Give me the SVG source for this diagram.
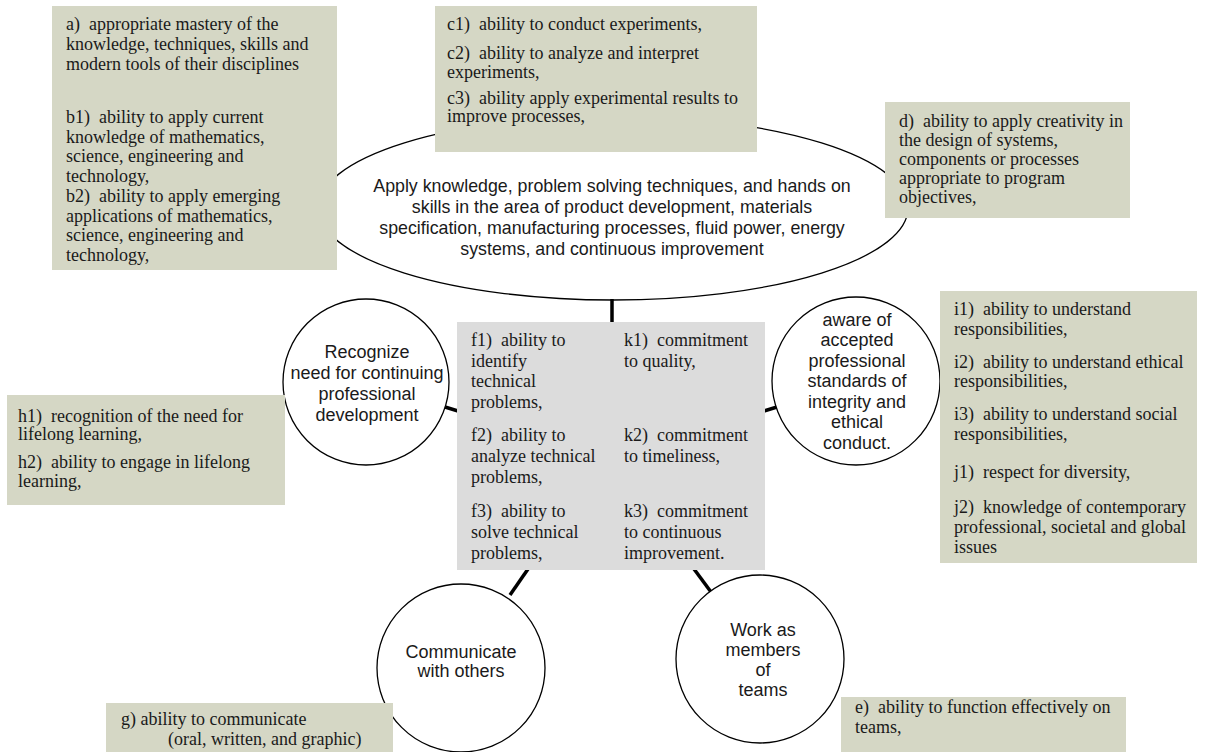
<svg xmlns="http://www.w3.org/2000/svg" width="1225" height="752" viewBox="0 0 1225 752">
<style>
.ob{fill:#d5d7c5}
.gb{fill:#dcdcdc}
.node{fill:#fff;stroke:#000;stroke-width:1.3}
.t{font-family:"Liberation Serif","Times New Roman",serif;font-size:18px;fill:#1a1a1a}
.s{font-family:"Liberation Sans",Arial,sans-serif;font-size:18px;fill:#1a1a1a;text-anchor:middle}
.conn line{stroke:#000;stroke-width:3.5}
</style>
<rect width="1225" height="752" fill="#fff"/>
<g id="goal">
<ellipse class="node" cx="613" cy="208" rx="295" ry="92"/>
<text class="s" style="font-size:17.8px"><tspan x="612" y="192">Apply knowledge, problem solving techniques, and hands on</tspan><tspan x="612" y="213">skills in the area of product development, materials</tspan><tspan x="612" y="234">specification, manufacturing processes, fluid power, energy</tspan><tspan x="612" y="255">systems, and continuous improvement</tspan></text>
</g>
<g id="box-ab">
<rect class="ob" x="52" y="6" width="285" height="264"/>
<text class="t"><tspan x="66" y="30">a)&#160; appropriate mastery of the</tspan><tspan x="66" y="50">knowledge, techniques, skills and</tspan><tspan x="66" y="70">modern tools of their disciplines</tspan><tspan x="66" y="123">b1)&#160; ability to apply current</tspan><tspan x="66" y="143">knowledge of mathematics,</tspan><tspan x="66" y="162">science, engineering and</tspan><tspan x="66" y="182">technology,</tspan><tspan x="66" y="202">b2)&#160; ability to apply emerging</tspan><tspan x="66" y="222">applications of mathematics,</tspan><tspan x="66" y="241">science, engineering and</tspan><tspan x="66" y="261">technology,</tspan></text>
</g>
<g id="box-c">
<rect class="ob" x="435" y="6" width="322" height="146"/>
<text class="t"><tspan x="447" y="30">c1)&#160; ability to conduct experiments,</tspan><tspan x="447" y="59">c2)&#160; ability to analyze and interpret</tspan><tspan x="447" y="78">experiments,</tspan><tspan x="447" y="104">c3)&#160; ability apply experimental results to</tspan><tspan x="447" y="122">improve processes,</tspan></text>
</g>
<g id="box-d">
<rect class="ob" x="885" y="102" width="245" height="116"/>
<text class="t"><tspan x="899" y="127">d)&#160; ability to apply creativity in</tspan><tspan x="899" y="146">the design of systems,</tspan><tspan x="899" y="165">components or processes</tspan><tspan x="899" y="184">appropriate to program</tspan><tspan x="899" y="203">objectives,</tspan></text>
</g>
<g class="conn" id="connectors">
<line x1="612" y1="299" x2="612" y2="323"/>
<line x1="445" y1="407" x2="458" y2="411"/>
<line x1="764" y1="411" x2="777" y2="407"/>
<line x1="528" y1="569" x2="510" y2="595"/>
<line x1="694" y1="569" x2="711" y2="592"/>
</g>
<g id="recognize">
<circle class="node" cx="366" cy="382" r="83"/>
<text class="s"><tspan x="367" y="358">Recognize</tspan><tspan x="367" y="379">need for continuing</tspan><tspan x="367" y="400">professional</tspan><tspan x="367" y="421">development</tspan></text>
</g>
<g id="aware">
<circle class="node" cx="856" cy="381" r="84"/>
<text class="s"><tspan x="857" y="326">aware of</tspan><tspan x="857" y="346">accepted</tspan><tspan x="857" y="367">professional</tspan><tspan x="857" y="387">standards of</tspan><tspan x="857" y="408">integrity and</tspan><tspan x="857" y="428">ethical</tspan><tspan x="857" y="449">conduct.</tspan></text>
</g>
<g id="communicate">
<circle class="node" cx="461" cy="668" r="84"/>
<text class="s"><tspan x="461" y="658">Communicate</tspan><tspan x="461" y="677">with others</tspan></text>
</g>
<g id="teams">
<circle class="node" cx="760" cy="659" r="84"/>
<text class="s"><tspan x="763" y="636">Work as</tspan><tspan x="763" y="656">members</tspan><tspan x="763" y="676">of</tspan><tspan x="763" y="696">teams</tspan></text>
</g>
<g id="box-fk">
<rect class="gb" x="457" y="322" width="308" height="248"/>
<text class="t"><tspan x="471" y="346">f1)&#160; ability to</tspan><tspan x="471" y="367">identify</tspan><tspan x="471" y="387">technical</tspan><tspan x="471" y="408">problems,</tspan><tspan x="471" y="441">f2)&#160; ability to</tspan><tspan x="471" y="462">analyze technical</tspan><tspan x="471" y="483">problems,</tspan><tspan x="471" y="517">f3)&#160; ability to</tspan><tspan x="471" y="538">solve technical</tspan><tspan x="471" y="559">problems,</tspan></text>
<text class="t"><tspan x="624" y="346">k1)&#160; commitment</tspan><tspan x="624" y="367">to quality,</tspan><tspan x="624" y="441">k2)&#160; commitment</tspan><tspan x="624" y="462">to timeliness,</tspan><tspan x="624" y="517">k3)&#160; commitment</tspan><tspan x="624" y="538">to continuous</tspan><tspan x="624" y="559">improvement.</tspan></text>
</g>
<g id="box-h">
<rect class="ob" x="7" y="395" width="278" height="110"/>
<text class="t"><tspan x="18" y="422">h1)&#160; recognition of the need for</tspan><tspan x="18" y="440">lifelong learning,</tspan><tspan x="18" y="468">h2)&#160; ability to engage in lifelong</tspan><tspan x="18" y="487">learning,</tspan></text>
</g>
<g id="box-ij">
<rect class="ob" x="940" y="291" width="257" height="272"/>
<text class="t"><tspan x="954" y="315">i1)&#160; ability to understand</tspan><tspan x="954" y="335">responsibilities,</tspan><tspan x="954" y="368">i2)&#160; ability to understand ethical</tspan><tspan x="954" y="387">responsibilities,</tspan><tspan x="954" y="420">i3)&#160; ability to understand social</tspan><tspan x="954" y="440">responsibilities,</tspan><tspan x="954" y="478">j1)&#160; respect for diversity,</tspan><tspan x="954" y="513">j2)&#160; knowledge of contemporary</tspan><tspan x="954" y="533">professional, societal and global</tspan><tspan x="954" y="553">issues</tspan></text>
</g>
<g id="box-g">
<rect class="ob" x="106" y="703" width="287" height="49"/>
<text class="t"><tspan x="121" y="725">g) ability to communicate</tspan><tspan x="168" y="745">(oral, written, and graphic)</tspan></text>
</g>
<g id="box-e">
<rect class="ob" x="841" y="697" width="285" height="55"/>
<text class="t"><tspan x="855" y="713">e)&#160; ability to function effectively on</tspan><tspan x="855" y="733">teams,</tspan></text>
</g>
</svg>
